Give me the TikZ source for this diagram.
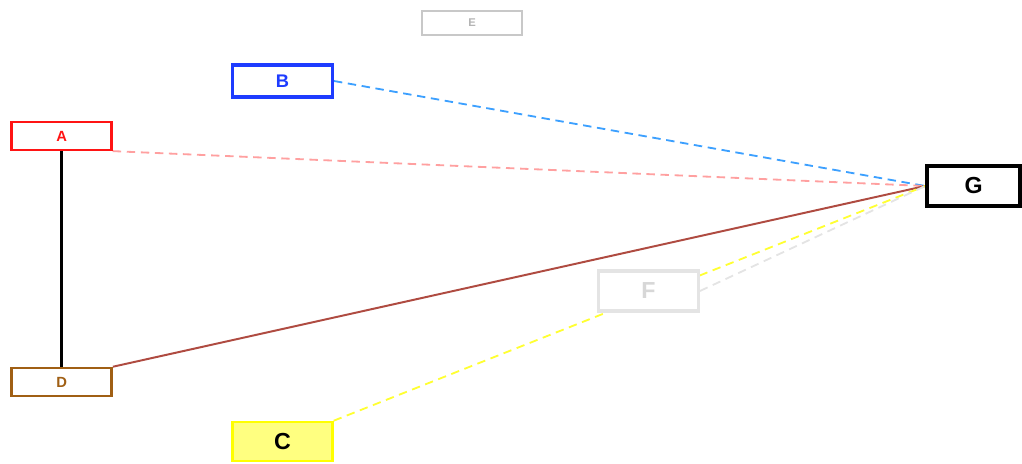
\documentclass[tikz,border=0pt]{standalone}
\usepackage{fontspec}
\setmainfont{Liberation Sans}
\usetikzlibrary{backgrounds}
\definecolor{eGray}{RGB}{200,200,200}
\definecolor{bBlue}{RGB}{30,60,255}
\definecolor{aRed}{RGB}{255,20,20}
\definecolor{fGray}{RGB}{228,228,228}
\definecolor{fText}{RGB}{215,215,215}
\definecolor{dBrown}{RGB}{160,95,20}
\definecolor{cYellow}{RGB}{255,255,0}
\definecolor{cFill}{RGB}{255,255,128}
\definecolor{bgEdge}{RGB}{60,160,255}
\definecolor{agEdge}{RGB}{255,160,160}
\definecolor{dgEdge}{RGB}{175,75,65}
\definecolor{cgEdge}{RGB}{255,255,50}
\definecolor{fgEdge}{RGB}{228,228,228}
\begin{document}
\begin{tikzpicture}[box/.style={shape=rectangle,fill=white,inner sep=0pt,minimum width=2.5cm,font=\bfseries},
  dashlink/.style={dash pattern=on 6pt off 4pt,line width=1.3pt}]
  \useasboundingbox (0,0) rectangle (25.55,-11.575);
  \node[box,draw=eGray,line width=1pt,text=eGray!90!black,minimum height=0.6cm,font=\bfseries\fontsize{8}{9}\selectfont] (e) at (11.8,-0.575) {E};
  \node[box,draw=bBlue,line width=2.2pt,text=bBlue,minimum height=0.8cm,font=\bfseries\fontsize{13}{15}\selectfont] (b) at (7.06,-2.025) {B};
  \node[box,draw=aRed,line width=1.6pt,text=aRed,minimum height=0.7cm,font=\bfseries\fontsize{10.5}{12}\selectfont] (a) at (1.54,-3.4) {A};
  \node[box,draw=black,line width=2.5pt,minimum width=2.33cm,minimum height=1cm,font=\bfseries\fontsize{16.5}{18}\selectfont] (g) at (24.34,-4.65) {G};
  \node[box,draw=fGray,line width=2.2pt,text=fText,minimum height=1cm,font=\bfseries\fontsize{16.5}{18}\selectfont] (f) at (16.21,-7.275) {F};
  \node[box,draw=dBrown,line width=1.8pt,text=dBrown,minimum height=0.7cm,font=\bfseries\fontsize{10.5}{12}\selectfont] (d) at (1.54,-9.55) {D};
  \node[box,draw=cYellow,fill=cFill,line width=1.8pt,minimum height=0.98cm,font=\bfseries\fontsize{16.5}{18}\selectfont] (c) at (7.06,-11.04) {C};
  \begin{pgfonlayer}{background}
  \path [-,line width=2.2pt](a) edge (d);
  \path [-,bgEdge,dashlink](b.east) edge (g.west);
  \path [-,agEdge,dashlink](a.south east) edge (g.west);
  \path [-,dgEdge,line width=1.4pt](d.north east) edge (g.west);
  \path [-,cgEdge,dashlink](c.north east) edge (g.west);
  \path [-,fgEdge,dashlink](f.east) edge (g.west);
  \end{pgfonlayer}
\end{tikzpicture}
\end{document}
